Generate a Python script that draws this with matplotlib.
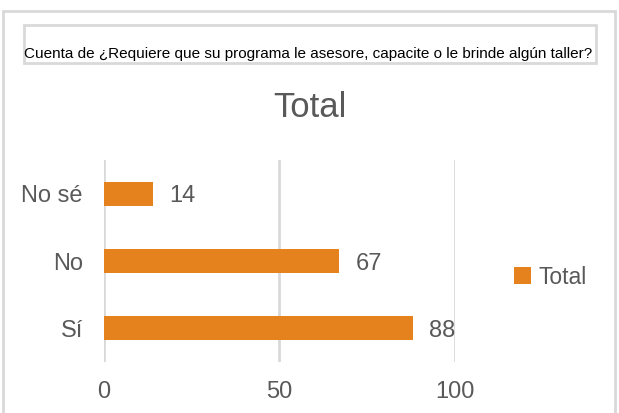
import matplotlib.pyplot as plt
from matplotlib.patches import Rectangle

categories = ["Sí", "No", "No sé"]
values = [88, 67, 14]
series_name = "Total"
x_ticks = [0, 50, 100]
chart_title = "Total"
field_title = "Cuenta de ¿Requiere que su programa le asesore, capacite o le brinde algún taller?"

W, H = 619, 413
bar_color = "#E6821E"
grid_color = "#D9D9D9"
text_gray = "#595959"

plt.rcParams["font.family"] = ["Liberation Sans", "DejaVu Sans"]

fig = plt.figure(figsize=(W / 100, H / 100), dpi=100)


def px(x0, y0, x1, y1):
    # pixel box (top-left origin) -> figure fraction rect
    return (x0 / W, 1 - y1 / H, (x1 - x0) / W, (y1 - y0) / H)


# outer chart border (bottom runs off the picture)
l, b, w, h = px(3, 11, 615, 430)
fig.add_artist(Rectangle((l, b), w, h, transform=fig.transFigure,
                         fill=False, edgecolor=grid_color, linewidth=2))
# field button box
l, b, w, h = px(24, 25, 596, 63)
fig.add_artist(Rectangle((l, b), w, h, transform=fig.transFigure,
                         fill=False, edgecolor=grid_color, linewidth=2))
fig.text(24 / W, 1 - 58 / H, field_title, fontsize=11, color="black",
         ha="left", va="baseline")

fig.text(310 / W, 1 - 117 / H, chart_title, fontsize=25, color=text_gray,
         ha="center", va="baseline")

ax = fig.add_axes(px(103.6, 160, 455, 362))
ypos = list(range(len(categories)))
bars = ax.barh(ypos, values, height=0.36, color=bar_color, label=series_name, zorder=3)
ax.set_xlim(0, 100)
ax.set_ylim(-0.5, len(categories) - 0.5)
ax.set_yticks(ypos)
ax.set_yticklabels(categories)
ax.set_xticks(x_ticks)
ax.tick_params(axis="y", length=0, pad=15, labelsize=17, labelcolor=text_gray)
ax.tick_params(axis="x", length=0, pad=14, labelsize=17, labelcolor=text_gray)
ax.xaxis.grid(True, color=grid_color, linewidth=2, zorder=0)
for s in ax.spines.values():
    s.set_visible(False)

for rect, v in zip(bars, values):
    ax.annotate(str(v), (rect.get_width(), rect.get_y() + rect.get_height() / 2),
                xytext=(12, 0), textcoords="offset points", ha="left",
                va="center_baseline", fontsize=17, color=text_gray)

fig.legend(handles=[bars], labels=[series_name], loc="center left",
           bbox_to_anchor=(514 / W, 1 - 277 / H), frameon=False, fontsize=16.5,
           labelcolor=text_gray, handlelength=0.75, handleheight=0.75,
           handletextpad=0.3, borderpad=0, borderaxespad=0)

fig.savefig("out.png", dpi=100)
